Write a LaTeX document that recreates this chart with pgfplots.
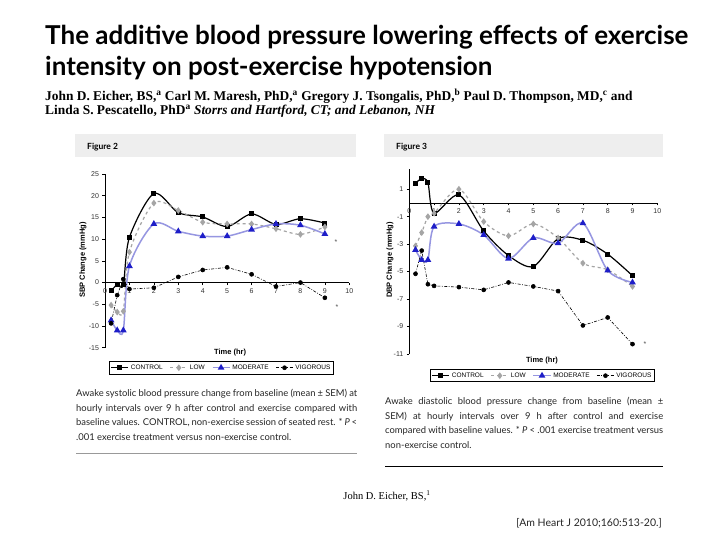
\documentclass[border=0pt]{standalone}
\usepackage{pgfplots}
\pgfplotsset{compat=1.18}
\usepackage{fontspec}
\setmainfont{Liberation Sans}
\newfontfamily\titlefont{Lato}
\newfontfamily\serfont{Liberation Serif}
\definecolor{lowgray}{RGB}{165,165,165}
\definecolor{modline}{RGB}{150,150,225}
\definecolor{modmark}{RGB}{30,30,200}
\definecolor{boxgray}{RGB}{238,238,238}
\pgfplotsset{
  bpaxis/.style={
    scale only axis, clip=false,
    xmin=0, xmax=10, xtick={0,...,10},
    axis x line=middle, axis y line=left,
    axis line style={-, line width=0.6pt},
    tick align=outside, major tick length=2.5pt,
    tick style={line width=0.5pt, black},
    hide obscured x ticks=false, hide obscured y ticks=false,
    tick label style={font=\fontsize{7}{8}\selectfont, text=black!80},
    /pgf/number format/assume math mode=true,
    xlabel style={font=\bfseries\fontsize{7.5}{8}\selectfont, anchor=center},
    ylabel style={font=\bfseries\fontsize{7.5}{8}\selectfont, anchor=center},
    legend columns=4,
    legend style={draw=black, line width=0.9pt, inner sep=1.2pt, anchor=north,
      font=\fontsize{6.5}{7}\selectfont,
      /tikz/every even column/.append style={column sep=5pt}},
  },
  ctrl/.style={black, line width=1.2pt, smooth, mark=square*, mark size=1.9pt, mark options={solid}},
  low/.style={lowgray, line width=1.2pt, smooth, dash pattern=on 3pt off 3pt, mark=diamond*, mark size=2.4pt, mark options={solid}},
  mod/.style={modline, line width=1.5pt, smooth, mark=triangle*, mark size=2.4pt, mark options={solid, fill=modmark, draw=modmark}},
  vig/.style={black, line width=0.6pt, dash pattern=on 3pt off 1.5pt on 0.8pt off 1.5pt, mark=*, mark size=2pt, mark options={solid}},
}
\begin{document}
\begin{tikzpicture}
\useasboundingbox[fill=white] (0,0) rectangle (720pt,-540pt);
% title
\node[anchor=base west, inner sep=0, font=\titlefont\bfseries\fontsize{26}{26}\selectfont] at (45pt,-45pt) {The additive blood pressure lowering effects of exercise};
\node[anchor=base west, inner sep=0, font=\titlefont\bfseries\fontsize{26}{26}\selectfont] at (45pt,-76pt) {intensity on post-exercise hypotension};
\node[anchor=north west, inner sep=0, align=left, font=\serfont\bfseries\fontsize{13.4}{14}\selectfont] at (45pt,-88.5pt) {John D. Eicher, BS,\textsuperscript{a} Carl M. Maresh, PhD,\textsuperscript{a} Gregory J. Tsongalis, PhD,\textsuperscript{b} Paul D. Thompson, MD,\textsuperscript{c} and\\
Linda S. Pescatello, PhD\textsuperscript{a} \textit{Storrs and Hartford, CT; and Lebanon, NH}};
% figure headers
\fill[boxgray] (75pt,-134pt) rectangle (356pt,-157pt);
\fill[boxgray] (384pt,-134pt) rectangle (663pt,-157pt);
\node[anchor=base west, inner sep=0, font=\titlefont\bfseries\fontsize{8.5}{9}\selectfont] at (87pt,-150pt) {Figure 2};
\node[anchor=base west, inner sep=0, font=\titlefont\bfseries\fontsize{8.5}{9}\selectfont] at (396pt,-150pt) {Figure 3};

% left chart
\begin{axis}[bpaxis, at={(105pt,-347.7pt)}, anchor=south west,
  width=244.3pt, height=173.7pt,
  ymin=-15, ymax=25, ytick={-15,-10,...,25},
  xlabel={Time (hr)}, xlabel style={at={(axis description cs:0.512,-0.03)}},
  ylabel={SBP Change (mmHg)}, ylabel style={at={(axis description cs:-0.09,0.505)}},
  legend style={at={(axis description cs:0.477,-0.077)}},
]
\addplot[ctrl] coordinates {(0.25,-1.9)(0.5,-0.5)(0.75,-0.5)(1,10.4)(2,20.5)(3,16.1)(4,15.1)(5,12.9)(6,15.8)(7,13.4)(8,14.7)(9,13.7)};
\addlegendentry{CONTROL}
\addplot[low] coordinates {(0.25,-5.2)(0.5,-6.8)(0.75,-6.6)(1,7.0)(2,18.3)(3,16.6)(4,13.9)(5,13.5)(6,13.5)(7,12.4)(8,11.1)(9,12.8)};
\addlegendentry{LOW}
\addplot[mod] coordinates {(0.25,-8.7)(0.5,-11)(0.75,-11)(1,3.8)(2,13.5)(3,11.8)(4,10.7)(5,10.7)(6,12.2)(7,13.5)(8,13.2)(9,11.2)};
\addlegendentry{MODERATE}
\addplot[vig] coordinates {(0.25,-9.4)(0.5,-2.9)(0.75,0.8)(1,-1.5)(2,-1.2)(3,1.3)(4,2.9)(5,3.5)(6,1.9)(7,-0.9)(8,0)(9,-3.5)};
\addlegendentry{VIGOROUS}
\node[font=\fontsize{7}{8}\selectfont, text=black!70] at (axis cs:9.45,9.4) {*};
\node[font=\fontsize{7}{8}\selectfont, text=black!70] at (axis cs:9.5,-5.6) {*};
\end{axis}

% right chart
\begin{axis}[bpaxis, at={(409.3pt,-354pt)}, anchor=south west,
  width=248pt, height=185.4pt,
  ymin=-11, ymax=2.5, ytick={-11,-9,...,1},
  xlabel={Time (hr)}, xlabel style={at={(axis description cs:0.535,-0.038)}},
  ylabel={DBP Change (mmHg)}, ylabel style={at={(axis description cs:-0.078,0.507)}},
  legend style={at={(axis description cs:0.537,-0.081)}},
]
\addplot[ctrl] coordinates {(0.25,1.43)(0.5,1.77)(0.75,1.48)(1,-0.75)(2,0.58)(3,-2.04)(4,-3.83)(5,-4.63)(6,-2.6)(7,-2.72)(8,-3.73)(9,-5.3)};
\addlegendentry{CONTROL}
\addplot[low] coordinates {(0.25,-3.13)(0.5,-2.16)(0.75,-1.0)(1,-0.75)(2,1.0)(3,-1.36)(4,-2.4)(5,-1.53)(6,-2.55)(7,-4.39)(8,-4.87)(9,-6.08)};
\addlegendentry{LOW}
\addplot[mod] coordinates {(0.25,-3.42)(0.5,-4.15)(0.75,-4.15)(1,-1.72)(2,-1.53)(3,-2.33)(4,-4.05)(5,-2.55)(6,-2.93)(7,-1.48)(8,-4.92)(9,-5.79)};
\addlegendentry{MODERATE}
\addplot[vig] coordinates {(0.25,-5.16)(0.5,-3.47)(0.75,-5.92)(1,-6.04)(2,-6.13)(3,-6.33)(4,-5.79)(5,-6.08)(6,-6.42)(7,-8.92)(8,-8.34)(9,-10.28)};
\addlegendentry{VIGOROUS}
\node[font=\fontsize{7}{8}\selectfont, text=black!70] at (axis cs:9.5,-10.3) {*};
\end{axis}

% captions
\node[anchor=north west, inner sep=0, text width=281pt, align=justify, font=\titlefont\fontsize{9.4}{14.5}\selectfont, text=black!85] at (76pt,-389.5pt)
{Awake systolic blood pressure change from baseline (mean ± SEM) at\linebreak hourly intervals over 9 h after control and exercise compared with\linebreak baseline values. CONTROL, non-exercise session of seated rest. * \textit{P} <\linebreak .001 exercise treatment versus non-exercise control.};
\draw[black!40, line width=0.6pt] (76pt,-453pt) -- (357pt,-453pt);
\node[anchor=north west, inner sep=0, text width=278pt, align=justify, font=\titlefont\fontsize{9.4}{14.5}\selectfont, text=black!85] at (385pt,-397.5pt)
{Awake diastolic blood pressure change from baseline (mean ±\linebreak SEM) at hourly intervals over 9 h after control and exercise\linebreak compared with baseline values. * \textit{P} < .001 exercise treatment versus\linebreak non-exercise control.};
\draw[black, line width=0.8pt] (385pt,-466pt) -- (663pt,-466pt);
\node[anchor=base, inner sep=0, font=\serfont\fontsize{10.5}{11}\selectfont] at (387pt,-499pt) {John D. Eicher, BS,\textsuperscript{1}};
\node[anchor=base east, inner sep=0, font=\titlefont\fontsize{10.5}{11}\selectfont, text=black!85] at (662pt,-526pt) {[Am Heart J 2010;160:513-20.]};
\end{tikzpicture}
\end{document}
